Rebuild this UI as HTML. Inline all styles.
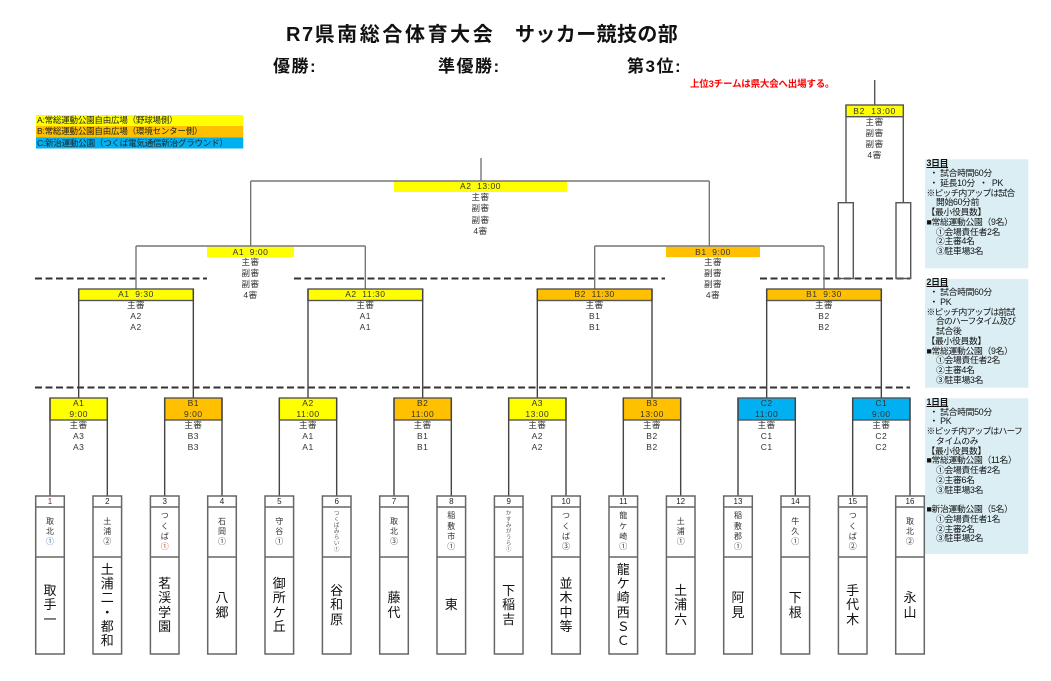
<!DOCTYPE html>
<html><head><meta charset="utf-8">
<style>
body{margin:0;background:#fff}
#w{position:relative;width:1051px;height:681px;overflow:hidden;background:#fff;font-family:"Liberation Sans","Noto Sans CJK JP",sans-serif;color:#222}
.a{position:absolute;white-space:nowrap}
.c{text-align:center}
.m{font-size:8.5px;line-height:11px;letter-spacing:0.5px;color:#333}
.num{position:absolute;top:496px;height:11px;line-height:11.5px;width:28.6px;text-align:center;font-size:8px;color:#222}
.s{position:absolute;top:507px;height:50px;width:28.6px;display:flex;align-items:center;justify-content:center;text-align:center;font-size:8px;line-height:10.3px;color:#333}
.s.x{font-size:5.5px;line-height:6px;color:#555}
.n{position:absolute;top:557px;height:97px;width:28.6px;display:flex;align-items:center;justify-content:center;text-align:center;font-size:13px;line-height:14.2px;color:#111}
.nt{position:absolute;left:926.5px;font-size:8.8px;line-height:9.75px;letter-spacing:-0.3px;color:#111;white-space:nowrap}
.nt .h{font-weight:bold;text-decoration:underline}
.nt .k{letter-spacing:-0.8px}
.nt .i{padding-left:9.5px}
.nt .b{padding-left:3px}
.lg{position:absolute;left:37px;font-size:8.5px;line-height:11px;letter-spacing:-0.2px;color:#222;white-space:nowrap}
</style></head>
<body><div id="w">
<svg width="1051" height="681" style="position:absolute;left:0;top:0">
<!-- legend -->
<rect x="36" y="115" width="207.3" height="11" fill="#FFFF00"/>
<rect x="36" y="126" width="207.3" height="11.5" fill="#FFC000"/>
<rect x="36" y="137.5" width="207.3" height="11" fill="#00B0F0"/>
<!-- notes -->
<rect x="925" y="159.3" width="103.3" height="109" fill="#DAEEF3"/>
<rect x="925" y="279" width="103.3" height="108.7" fill="#DAEEF3"/>
<rect x="925" y="398.3" width="103.3" height="155.7" fill="#DAEEF3"/>
<!-- dashed -->
<path d="M35 278.5H207M294 278.5H665M760 278.5H910M35 387.5H910" stroke="#333" stroke-width="2" stroke-dasharray="7 3.5" fill="none"/>
<!-- final / semi header fills -->
<rect x="394" y="181.5" width="173" height="10.5" fill="#FFFF00"/>
<rect x="207" y="246.7" width="87" height="10.5" fill="#FFFF00"/>
<rect x="666" y="246.7" width="94" height="10.5" fill="#FFC000"/>
<!-- final / semi brackets -->
<path d="M481 158V181M250.67 181H709.33M250.67 181V246M709.33 181V246M136 246H365.33M594.67 246H824M136 246V289M365.33 246V289M594.67 246V289M824 246V289" stroke="#777" stroke-width="1.4" fill="none"/>
<!-- second round -->
<g stroke="#555" stroke-width="1.4">
<rect x="78.67" y="289" width="114.67" height="11.5" fill="#FFFF00"/>
<rect x="308" y="289" width="114.67" height="11.5" fill="#FFFF00"/>
<rect x="537.33" y="289" width="114.67" height="11.5" fill="#FFC000"/>
<rect x="766.67" y="289" width="114.67" height="11.5" fill="#FFC000"/>
</g>
<path d="M78.67 289V398M193.33 289V398M308 289V398M422.67 289V398M537.33 289V398M652 289V398M766.67 289V398M881.33 289V398" stroke="#444" stroke-width="1.4" fill="none"/>
<!-- first round -->
<g stroke="#555" stroke-width="1.4">
<rect x="50" y="398" width="57.33" height="22" fill="#FFFF00"/>
<rect x="164.67" y="398" width="57.33" height="22" fill="#FFC000"/>
<rect x="279.33" y="398" width="57.33" height="22" fill="#FFFF00"/>
<rect x="394" y="398" width="57.33" height="22" fill="#FFC000"/>
<rect x="508.67" y="398" width="57.33" height="22" fill="#FFFF00"/>
<rect x="623.33" y="398" width="57.33" height="22" fill="#FFC000"/>
<rect x="738" y="398" width="57.33" height="22" fill="#00B0F0"/>
<rect x="852.67" y="398" width="57.33" height="22" fill="#00B0F0"/>
</g>
<path d="M50 398V496M107.33 398V496M164.67 398V496M222 398V496M279.33 398V496M336.67 398V496M394 398V496M451.33 398V496M508.67 398V496M566 398V496M623.33 398V496M680.67 398V496M738 398V496M795.33 398V496M852.67 398V496M910 398V496" stroke="#444" stroke-width="1.4" fill="none"/>
<!-- team boxes -->
<g stroke="#666" stroke-width="1.5" fill="none">
<rect x="35.7" y="496" width="28.6" height="158"/>
<rect x="93" y="496" width="28.6" height="158"/>
<rect x="150.4" y="496" width="28.6" height="158"/>
<rect x="207.7" y="496" width="28.6" height="158"/>
<rect x="265" y="496" width="28.6" height="158"/>
<rect x="322.4" y="496" width="28.6" height="158"/>
<rect x="379.7" y="496" width="28.6" height="158"/>
<rect x="437" y="496" width="28.6" height="158"/>
<rect x="494.4" y="496" width="28.6" height="158"/>
<rect x="551.7" y="496" width="28.6" height="158"/>
<rect x="609" y="496" width="28.6" height="158"/>
<rect x="666.4" y="496" width="28.6" height="158"/>
<rect x="723.7" y="496" width="28.6" height="158"/>
<rect x="781" y="496" width="28.6" height="158"/>
<rect x="838.4" y="496" width="28.6" height="158"/>
<rect x="895.7" y="496" width="28.6" height="158"/>
<path d="M35.7 507h28.6M35.7 557h28.6M93 507h28.6M93 557h28.6M150.4 507h28.6M150.4 557h28.6M207.7 507h28.6M207.7 557h28.6M265 507h28.6M265 557h28.6M322.4 507h28.6M322.4 557h28.6M379.7 507h28.6M379.7 557h28.6M437 507h28.6M437 557h28.6M494.4 507h28.6M494.4 557h28.6M551.7 507h28.6M551.7 557h28.6M609 507h28.6M609 557h28.6M666.4 507h28.6M666.4 557h28.6M723.7 507h28.6M723.7 557h28.6M781 507h28.6M781 557h28.6M838.4 507h28.6M838.4 557h28.6M895.7 507h28.6M895.7 557h28.6"/>
</g>
<!-- 3rd place (B2 13:00) -->
<path d="M874.7 80V105M846 105V202.7M903.3 105V202.7" stroke="#555" stroke-width="1.4" fill="none"/>
<rect x="846" y="105" width="57.3" height="11.7" fill="#FFFF00" stroke="#555" stroke-width="1.4"/>
<rect x="838.3" y="202.7" width="15" height="75.8" fill="none" stroke="#555" stroke-width="1.4"/>
<rect x="896" y="202.7" width="14.7" height="75.8" fill="none" stroke="#555" stroke-width="1.4"/>
</svg>

<!-- title -->
<div class="a" style="left:286px;top:24px;font-size:20px;line-height:22px;font-weight:bold;color:#111"><span style="letter-spacing:1.5px">R7</span><span style="letter-spacing:2.6px">県南総合体育大会</span></div>
<div class="a" style="left:515px;top:24px;font-size:20px;line-height:22px;font-weight:bold;color:#111;letter-spacing:0.4px">サッカー競技の部</div>
<div class="a" style="left:273px;top:58px;font-size:17px;line-height:17px;font-weight:bold;color:#111;letter-spacing:1.5px">優勝:</div>
<div class="a" style="left:438px;top:58px;font-size:17px;line-height:17px;font-weight:bold;color:#111;letter-spacing:1.5px">準優勝:</div>
<div class="a" style="left:627px;top:58px;font-size:17px;line-height:17px;font-weight:bold;color:#111;letter-spacing:1.5px">第3位:</div>
<div class="a" style="left:690px;top:80px;font-size:9.5px;line-height:10px;font-weight:bold;color:#FF0000;letter-spacing:-0.2px">上位3チームは県大会へ出場する。</div>

<!-- legend -->
<div class="lg" style="top:115px">A:常総運動公園自由広場（野球場側）</div>
<div class="lg" style="top:126.3px">B:常総運動公園自由広場（環境センター側）</div>
<div class="lg" style="top:137.5px">C:新治運動公園（つくば電気通信新治グラウンド）</div>

<!-- final -->
<div class="a c m" style="left:394px;top:181px;width:173px;line-height:11.2px">A2&nbsp;&nbsp;13:00<br>主審<br>副審<br>副審<br>4審</div>
<!-- semis -->
<div class="a c m" style="left:207px;top:246.5px;width:87px;line-height:10.8px">A1&nbsp;&nbsp;9:00<br>主審<br>副審<br>副審<br>4審</div>
<div class="a c m" style="left:666px;top:246.5px;width:94px;line-height:10.8px">B1&nbsp;&nbsp;9:00<br>主審<br>副審<br>副審<br>4審</div>
<!-- 3rd place -->
<div class="a c m" style="left:846px;top:105.5px;width:57.3px;letter-spacing:0.7px">B2&nbsp;&nbsp;13:00<br>主審<br>副審<br>副審<br>4審</div>
<!-- second round -->
<div class="a c m" style="left:78.67px;top:289.2px;width:114.67px">A1&nbsp;&nbsp;9:30<br>主審<br>A2<br>A2</div>
<div class="a c m" style="left:308px;top:289.2px;width:114.67px">A2&nbsp;&nbsp;11:30<br>主審<br>A1<br>A1</div>
<div class="a c m" style="left:537.33px;top:289.2px;width:114.67px">B2&nbsp;&nbsp;11:30<br>主審<br>B1<br>B1</div>
<div class="a c m" style="left:766.67px;top:289.2px;width:114.67px">B1&nbsp;&nbsp;9:30<br>主審<br>B2<br>B2</div>
<!-- first round -->
<div class="a c m" style="left:50px;top:398px;width:57.33px">A1<br>9:00<br>主審<br>A3<br>A3</div>
<div class="a c m" style="left:164.67px;top:398px;width:57.33px">B1<br>9:00<br>主審<br>B3<br>B3</div>
<div class="a c m" style="left:279.33px;top:398px;width:57.33px">A2<br>11:00<br>主審<br>A1<br>A1</div>
<div class="a c m" style="left:394px;top:398px;width:57.33px">B2<br>11:00<br>主審<br>B1<br>B1</div>
<div class="a c m" style="left:508.67px;top:398px;width:57.33px">A3<br>13:00<br>主審<br>A2<br>A2</div>
<div class="a c m" style="left:623.33px;top:398px;width:57.33px">B3<br>13:00<br>主審<br>B2<br>B2</div>
<div class="a c m" style="left:738px;top:398px;width:57.33px">C2<br>11:00<br>主審<br>C1<br>C1</div>
<div class="a c m" style="left:852.67px;top:398px;width:57.33px">C1<br>9:00<br>主審<br>C2<br>C2</div>

<!-- team numbers -->
<div class="num" style="left:35.7px;color:#8b1a1a">1</div>
<div class="num" style="left:93px">2</div>
<div class="num" style="left:150.4px">3</div>
<div class="num" style="left:207.7px">4</div>
<div class="num" style="left:265px">5</div>
<div class="num" style="left:322.4px">6</div>
<div class="num" style="left:379.7px">7</div>
<div class="num" style="left:437px">8</div>
<div class="num" style="left:494.4px">9</div>
<div class="num" style="left:551.7px">10</div>
<div class="num" style="left:609px">11</div>
<div class="num" style="left:666.4px">12</div>
<div class="num" style="left:723.7px">13</div>
<div class="num" style="left:781px">14</div>
<div class="num" style="left:838.4px">15</div>
<div class="num" style="left:895.7px">16</div>

<!-- small labels -->
<div class="s" style="left:35.7px"><div>取<br>北<br><span style="color:#3a6db5">①</span></div></div>
<div class="s" style="left:93px"><div>土<br>浦<br>②</div></div>
<div class="s" style="left:150.4px"><div>つ<br>く<br>ば<br><span style="color:#c0502a">①</span></div></div>
<div class="s" style="left:207.7px"><div>石<br>岡<br>①</div></div>
<div class="s" style="left:265px"><div>守<br>谷<br>①</div></div>
<div class="s x" style="left:322.4px"><div>つ<br>く<br>ば<br>み<br>ら<br>い<br>①</div></div>
<div class="s" style="left:379.7px"><div>取<br>北<br>③</div></div>
<div class="s" style="left:437px"><div>稲<br>敷<br>市<br>①</div></div>
<div class="s x" style="left:494.4px"><div>か<br>す<br>み<br>が<br>う<br>ら<br>①</div></div>
<div class="s" style="left:551.7px"><div>つ<br>く<br>ば<br>③</div></div>
<div class="s" style="left:609px"><div>龍<br>ケ<br>崎<br>①</div></div>
<div class="s" style="left:666.4px"><div>土<br>浦<br>①</div></div>
<div class="s" style="left:723.7px"><div>稲<br>敷<br>郡<br>①</div></div>
<div class="s" style="left:781px"><div>牛<br>久<br>①</div></div>
<div class="s" style="left:838.4px"><div>つ<br>く<br>ば<br>②</div></div>
<div class="s" style="left:895.7px"><div>取<br>北<br>②</div></div>

<!-- team names -->
<div class="n" style="left:35.7px"><div>取<br>手<br>一</div></div>
<div class="n" style="left:93px"><div>土<br>浦<br>二<br>・<br>都<br>和</div></div>
<div class="n" style="left:150.4px"><div>茗<br>渓<br>学<br>園</div></div>
<div class="n" style="left:207.7px"><div>八<br>郷</div></div>
<div class="n" style="left:265px"><div>御<br>所<br>ケ<br>丘</div></div>
<div class="n" style="left:322.4px"><div>谷<br>和<br>原</div></div>
<div class="n" style="left:379.7px"><div>藤<br>代</div></div>
<div class="n" style="left:437px"><div>東</div></div>
<div class="n" style="left:494.4px"><div>下<br>稲<br>吉</div></div>
<div class="n" style="left:551.7px"><div>並<br>木<br>中<br>等</div></div>
<div class="n" style="left:609px"><div>龍<br>ケ<br>崎<br>西<br>Ｓ<br>Ｃ</div></div>
<div class="n" style="left:666.4px"><div>土<br>浦<br>六</div></div>
<div class="n" style="left:723.7px"><div>阿<br>見</div></div>
<div class="n" style="left:781px"><div>下<br>根</div></div>
<div class="n" style="left:838.4px"><div>手<br>代<br>木</div></div>
<div class="n" style="left:895.7px"><div>永<br>山</div></div>

<!-- notes -->
<div class="nt" style="top:159.4px"><span class="h">3日目</span><br><div class="b">・ 試合時間60分</div><div class="b">・ 延長10分&nbsp;&nbsp;・&nbsp;&nbsp;PK</div><div class="k">※ピッチ内アップは試合</div><div class="i">開始60分前</div>【最小役員数】<br>■常総運動公園（9名）<br><div class="i">①会場責任者2名</div><div class="i">②主審4名</div><div class="i">③駐車場3名</div></div>

<div class="nt" style="top:278.4px"><span class="h">2日目</span><br><div class="b">・ 試合時間60分</div><div class="b">・ PK</div><div class="k">※ピッチ内アップは前試</div><div class="i k">合のハーフタイム及び</div><div class="i">試合後</div>【最小役員数】<br>■常総運動公園（9名）<br><div class="i">①会場責任者2名</div><div class="i">②主審4名</div><div class="i">③駐車場3名</div></div>

<div class="nt" style="top:397.8px"><span class="h">1日目</span><br><div class="b">・ 試合時間50分</div><div class="b">・ PK</div><div class="k">※ピッチ内アップはハーフ</div><div class="i">タイムのみ</div>【最小役員数】<br>■常総運動公園（11名）<br><div class="i">①会場責任者2名</div><div class="i">②主審6名</div><div class="i">③駐車場3名</div><br>■新治運動公園（5名）<br><div class="i">①会場責任者1名</div><div class="i">②主審2名</div><div class="i">③駐車場2名</div></div>

</div></body></html>
